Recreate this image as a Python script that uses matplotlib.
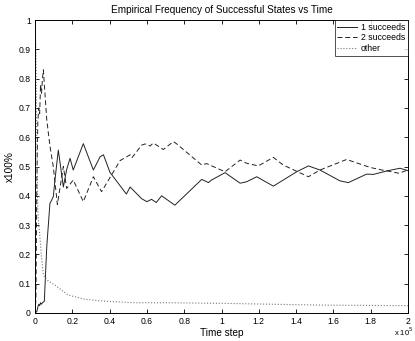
import numpy as np
import matplotlib.pyplot as plt

# time in units of 1e5 steps
t_one = [0, 0.01, 0.015, 0.02, 0.025, 0.03, 0.035, 0.04, 0.05, 0.063, 0.08, 0.089, 0.098,
         0.107, 0.125, 0.152, 0.17, 0.188, 0.205, 0.259, 0.313, 0.349, 0.367, 0.402,
         0.49, 0.51, 0.572, 0.60, 0.625, 0.65, 0.679, 0.75, 0.894, 0.93, 0.947, 1.019,
         1.10, 1.135, 1.189, 1.278, 1.403, 1.466, 1.528, 1.635, 1.68, 1.778, 1.814,
         1.894, 1.957, 2.0]
v_one = [0, 0.005, 0.02, 0.03, 0.025, 0.035, 0.03, 0.035, 0.04, 0.226, 0.374, 0.385, 0.397,
         0.454, 0.556, 0.43, 0.49, 0.528, 0.488, 0.578, 0.488, 0.533, 0.54, 0.48,
         0.406, 0.43, 0.39, 0.38, 0.388, 0.377, 0.40, 0.368, 0.456, 0.445, 0.454, 0.479,
         0.443, 0.448, 0.465, 0.433, 0.482, 0.502, 0.488, 0.451, 0.445, 0.474, 0.473,
         0.486, 0.494, 0.486]

t_two = [0, 0.005, 0.01, 0.015, 0.02, 0.025, 0.03, 0.035, 0.04, 0.045, 0.05, 0.063, 0.08,
         0.098, 0.12, 0.152, 0.17, 0.205, 0.259, 0.313, 0.357, 0.456, 0.51, 0.52, 0.572,
         0.59, 0.617, 0.634, 0.652, 0.688, 0.742, 0.76, 0.894, 0.92, 1.019, 1.10, 1.135,
         1.197, 1.278, 1.331, 1.466, 1.528, 1.671, 1.796, 1.859, 1.914, 1.95, 2.0]
v_two = [0, 0.05, 0.45, 0.65, 0.70, 0.68, 0.78, 0.75, 0.80, 0.83, 0.78, 0.66, 0.57,
         0.50, 0.37, 0.50, 0.425, 0.454, 0.38, 0.465, 0.414, 0.52, 0.54, 0.53, 0.573,
         0.577, 0.57, 0.58, 0.573, 0.558, 0.585, 0.577, 0.505, 0.51, 0.482, 0.522, 0.511,
         0.502, 0.531, 0.505, 0.465, 0.488, 0.524, 0.497, 0.488, 0.482, 0.477, 0.488]

t_other = [0, 0.005, 0.01, 0.015, 0.02, 0.025, 0.035, 0.045, 0.063, 0.107, 0.179, 0.268,
           0.357, 0.536, 0.715, 1.0, 1.53, 2.0]
v_other = [1.0, 0.9, 0.55, 0.35, 0.3, 0.27, 0.19, 0.13, 0.113, 0.095, 0.061, 0.047,
           0.041, 0.035, 0.035, 0.033, 0.027, 0.025]

plt.rcParams['font.family'] = ['Liberation Sans', 'DejaVu Sans']

fig = plt.figure(figsize=(4.15, 3.41), dpi=100)
ax = fig.add_axes([35 / 415, 1 - 313 / 341, 373 / 415, 293 / 341])

ax.plot(t_one, v_one, '-', color='#222222', lw=0.7, label='1 succeeds')
ax.plot(t_two, v_two, '--', color='#222222', lw=0.7, dashes=(5, 3), label='2 succeeds')
ax.plot(t_other, v_other, ':', color='#777777', lw=0.8, label='other')

ax.set_xlim(0, 2)
ax.set_ylim(0, 1)
ax.set_xticks(np.arange(0, 2.01, 0.2))
ax.set_xticklabels(['0', '0.2', '0.4', '0.6', '0.8', '1', '1.2', '1.4', '1.6', '1.8', '2'])
ax.set_yticks(np.arange(0, 1.01, 0.1))
ax.set_yticklabels(['0', '0.1', '0.2', '0.3', '0.4', '0.5', '0.6', '0.7', '0.8', '0.9', '1'])
ax.tick_params(direction='in', top=True, right=True, length=3, width=0.6,
               labelsize=6.2, pad=3)
for s in ax.spines.values():
    s.set_linewidth(0.7)

ax.set_title('Empirical Frequency of Successful States vs Time', fontsize=7.2, pad=5)
ax.set_xlabel('Time step', fontsize=7.2, labelpad=1)
ax.set_ylabel('x100%', fontsize=7.2, labelpad=3)
fig.text(413 / 415, 1 - 326 / 341, r'x 10$^5$', fontsize=5.5, ha='right', va='top')

leg = ax.legend(loc='upper right', fontsize=6.3, frameon=True, fancybox=False,
                borderaxespad=0, handlelength=2.2, handletextpad=0.5,
                labelspacing=0.2, borderpad=0.3)
leg.get_frame().set_edgecolor('black')
leg.get_frame().set_linewidth(0.6)

fig.savefig('out.png', dpi=100)
